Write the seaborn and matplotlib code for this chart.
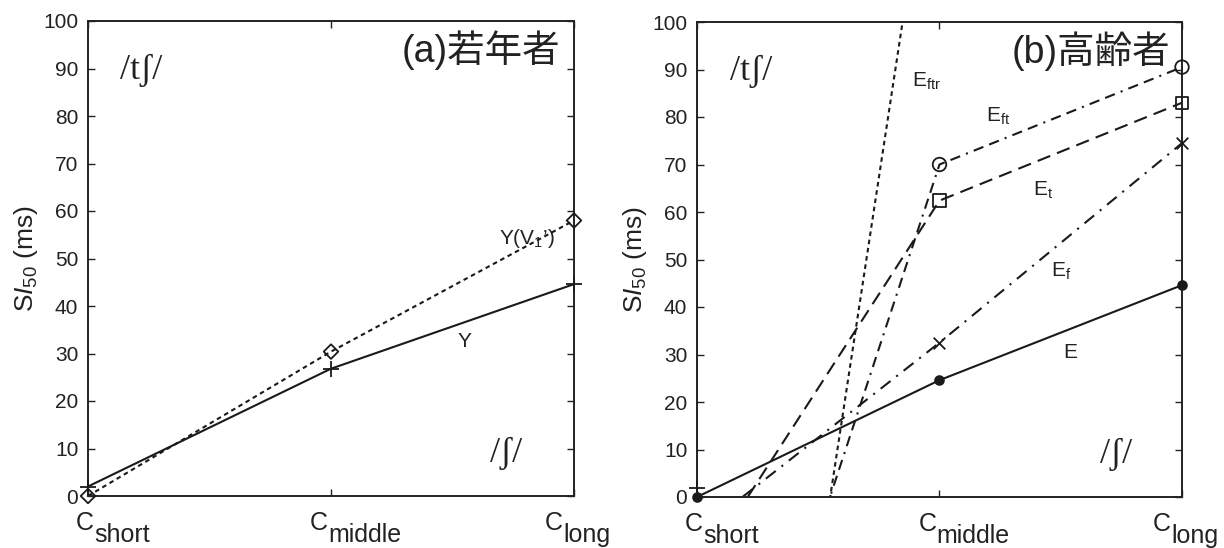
import numpy as np
import pandas as pd
import matplotlib
matplotlib.use("Agg")
import matplotlib.pyplot as plt
import matplotlib.transforms as mtransforms
import seaborn as sns

# ---------------- data ----------------
categories = ["short", "middle", "long"]
x_pos = [0, 1, 2]

# (a) young listeners
Y_vals = [2.0, 26.8, 44.6]
YV1_vals = [0.0, 30.4, 58.0]

# (b) elderly listeners
E_vals = [0.0, 24.6, 44.6]
Ef_vals = [-7.5, 32.5, 74.5]
Et_vals = [-16.5, 62.4, 83.0]
Eft_vals = [-85.0, 70.0, 90.5]
Eftr_vals = [-184.0, 151.0, np.nan]
Eplus_vals = [2.0]          # stray "+" marker at C_short in (b)

yticks = list(range(0, 101, 10))

# ---------------- style ----------------
sns.set_theme(style="ticks")
plt.rcParams["font.family"] = ["Liberation Sans", "Noto Sans CJK JP", "DejaVu Sans"]
plt.rcParams["mathtext.fontset"] = "custom"
plt.rcParams["mathtext.rm"] = "Liberation Sans"
plt.rcParams["mathtext.it"] = "Liberation Sans:italic"
plt.rcParams["mathtext.default"] = "regular"

TXT = "#222222"
fig = plt.figure(figsize=(12.24, 5.48), dpi=100)
W, H = 1224, 548
axL = fig.add_axes([88 / W, 1 - 496 / H, 486 / W, 475 / H])
axR = fig.add_axes([697 / W, 1 - 497 / H, 485 / W, 475 / H])


def style_axes(ax):
    ax.set_xlim(0, 2)
    ax.set_ylim(0, 100)
    ax.set_yticks(yticks)
    ax.set_xticks(x_pos)
    ax.set_xticklabels([])
    ax.tick_params(direction="in", length=5, width=1.0, colors="#222222",
                   top=True, right=True, labelsize=15, pad=7)
    ax.tick_params(axis="y", labelcolor=TXT)
    for s in ax.spines.values():
        s.set_visible(True)
        s.set_linewidth(1.4)
        s.set_color("#222222")
    ax.set_facecolor("white")
    ax.grid(False)
    ax.set_xlabel("")
    ax.set_ylabel(r"$S\mathit{I}_{50}$ (ms)", fontsize=19, color=TXT, labelpad=2)
    # category labels: "C" + same-size subscript
    trans = mtransforms.blended_transform_factory(ax.transData, ax.transAxes)
    offs = [-11, -20, -28]
    for xi, cat, o in zip(x_pos, categories, offs):
        ax.annotate("C", xy=(xi, 0), xycoords=trans, xytext=(o - 1, -34),
                    textcoords="offset pixels", fontsize=18, color=TXT,
                    ha="left", va="baseline", annotation_clip=False)
        ax.annotate(cat, xy=(xi, 0), xycoords=trans, xytext=(o + 17, -46),
                    textcoords="offset pixels", fontsize=18, color=TXT,
                    ha="left", va="baseline", annotation_clip=False)


def line(ax, vals, ls, lw=1.5):
    df = pd.DataFrame({"x": x_pos, "y": vals}).dropna()
    sns.lineplot(data=df, x="x", y="y", ax=ax, color="#1a1a1a", linewidth=lw,
                 linestyle=ls, sort=False, legend=False)


def marks(ax, xs, vals, marker, size, filled=False, lw=1.3):
    df = pd.DataFrame({"x": xs, "y": vals}).dropna()
    df = df[(df.y >= 0) & (df.y <= 100)]
    if marker in ("+", "x"):
        sns.scatterplot(data=df, x="x", y="y", ax=ax, marker=marker, s=size,
                        color="#1a1a1a", linewidth=lw, clip_on=False,
                        legend=False, zorder=5)
    else:
        sns.scatterplot(data=df, x="x", y="y", ax=ax, marker=marker, s=size,
                        facecolor="#1a1a1a" if filled else "none",
                        edgecolor="#1a1a1a", linewidth=lw, clip_on=False,
                        legend=False, zorder=5)


IPA = ["Liberation Serif", "DejaVu Serif"]

# ---------------- panel (a) ----------------
line(axL, Y_vals, "-")
line(axL, YV1_vals, (0, (2.2, 1.8)))
marks(axL, x_pos, Y_vals, "+", 130)
marks(axL, x_pos, YV1_vals, "D", 55)
style_axes(axL)

axL.text(0.13, 87.8, "/t\u0283/", fontsize=26, color=TXT, family=IPA,
         va="baseline")
axL.text(1.654, 7.2, "/\u0283/", fontsize=26, color=TXT, family=IPA,
         va="baseline")
axL.text(1.943, 91.4, "(a)若年者", fontsize=27, color=TXT, ha="right",
         va="baseline", family=["Liberation Sans", "Noto Sans CJK JP"])
axL.text(1.55, 31.4, "Y", fontsize=15, color=TXT, ha="center", va="baseline")
axL.text(1.69, 53.0, r"Y(V$_1$’)", fontsize=15, color=TXT, ha="left",
         va="baseline")

# ---------------- panel (b) ----------------
line(axR, E_vals, "-")
line(axR, Ef_vals, (0, (6, 3.5, 1, 3.5)))
line(axR, Et_vals, (0, (6.5, 3.5)))
line(axR, Eft_vals, (0, (5, 3, 1, 3, 5, 3)))
line(axR, Eftr_vals, (0, (2.2, 1.8)))
marks(axR, x_pos, E_vals, "o", 40, filled=True)
marks(axR, x_pos, Ef_vals, "x", 70)
marks(axR, x_pos, Et_vals, "s", 80)
marks(axR, x_pos, Eft_vals, "o", 95)
marks(axR, [0], Eplus_vals, "+", 130)
style_axes(axR)

axR.text(0.136, 87.8, "/t\u0283/", fontsize=26, color=TXT, family=IPA,
         va="baseline")
axR.text(1.66, 7.2, "/\u0283/", fontsize=26, color=TXT, family=IPA,
         va="baseline")
axR.text(1.95, 91.4, "(b)高齢者", fontsize=27, color=TXT, ha="right",
         va="baseline", family=["Liberation Sans", "Noto Sans CJK JP"])
axR.text(0.888, 86.3, r"E$_{ftr}$", fontsize=15, color=TXT, va="baseline")
axR.text(1.19, 79.0, r"E$_{ft}$", fontsize=15, color=TXT, va="baseline")
axR.text(1.384, 63.4, r"E$_{t}$", fontsize=15, color=TXT, va="baseline")
axR.text(1.459, 46.3, r"E$_{f}$", fontsize=15, color=TXT, va="baseline")
axR.text(1.51, 29.3, "E", fontsize=15, color=TXT, va="baseline")

fig.savefig("out.png", dpi=100, facecolor="white")
